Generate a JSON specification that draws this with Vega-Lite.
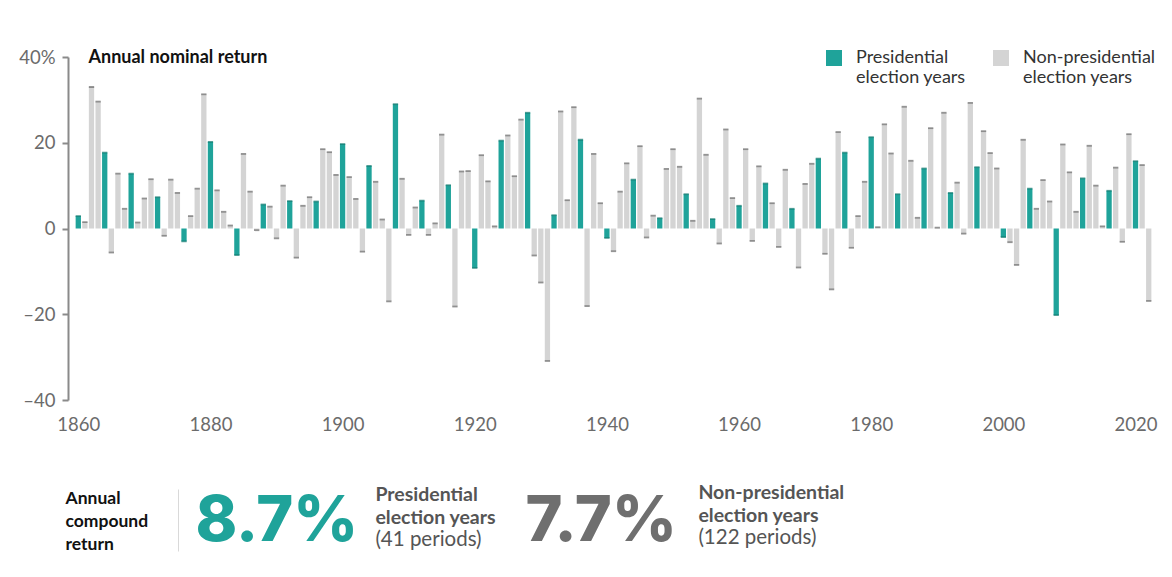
{
  "$schema": "https://vega.github.io/schema/vega-lite/v6.json",
  "padding": {"left": 18, "top": 48, "right": 0, "bottom": 0},
  "spacing": 49,
  "config": {"font": "Lato", "view": {"stroke": null}},
  "datasets": {
    "returns": [
      {"year":1860,"ret":2.9,"group":"Presidential"},{"year":1861,"ret":1.5,"group":"Non-presidential"},{"year":1862,"ret":33.0,"group":"Non-presidential"},{"year":1863,"ret":29.6,"group":"Non-presidential"},
      {"year":1864,"ret":17.7,"group":"Presidential"},{"year":1865,"ret":-5.6,"group":"Non-presidential"},{"year":1866,"ret":12.8,"group":"Non-presidential"},{"year":1867,"ret":4.6,"group":"Non-presidential"},
      {"year":1868,"ret":12.8,"group":"Presidential"},{"year":1869,"ret":1.4,"group":"Non-presidential"},{"year":1870,"ret":7.0,"group":"Non-presidential"},{"year":1871,"ret":11.5,"group":"Non-presidential"},
      {"year":1872,"ret":7.3,"group":"Presidential"},{"year":1873,"ret":-1.7,"group":"Non-presidential"},{"year":1874,"ret":11.4,"group":"Non-presidential"},{"year":1875,"ret":8.3,"group":"Non-presidential"},
      {"year":1876,"ret":-3.0,"group":"Presidential"},{"year":1877,"ret":2.9,"group":"Non-presidential"},{"year":1878,"ret":9.3,"group":"Non-presidential"},{"year":1879,"ret":31.3,"group":"Non-presidential"},
      {"year":1880,"ret":20.2,"group":"Presidential"},{"year":1881,"ret":8.9,"group":"Non-presidential"},{"year":1882,"ret":3.9,"group":"Non-presidential"},{"year":1883,"ret":0.7,"group":"Non-presidential"},
      {"year":1884,"ret":-6.2,"group":"Presidential"},{"year":1885,"ret":17.4,"group":"Non-presidential"},{"year":1886,"ret":8.6,"group":"Non-presidential"},{"year":1887,"ret":-0.4,"group":"Non-presidential"},
      {"year":1888,"ret":5.6,"group":"Presidential"},{"year":1889,"ret":5.1,"group":"Non-presidential"},{"year":1890,"ret":-2.3,"group":"Non-presidential"},{"year":1891,"ret":10.0,"group":"Non-presidential"},
      {"year":1892,"ret":6.4,"group":"Presidential"},{"year":1893,"ret":-6.8,"group":"Non-presidential"},{"year":1894,"ret":5.3,"group":"Non-presidential"},{"year":1895,"ret":7.3,"group":"Non-presidential"},
      {"year":1896,"ret":6.3,"group":"Presidential"},{"year":1897,"ret":18.5,"group":"Non-presidential"},{"year":1898,"ret":17.8,"group":"Non-presidential"},{"year":1899,"ret":12.5,"group":"Non-presidential"},
      {"year":1900,"ret":19.7,"group":"Presidential"},{"year":1901,"ret":12.0,"group":"Non-presidential"},{"year":1902,"ret":6.9,"group":"Non-presidential"},{"year":1903,"ret":-5.4,"group":"Non-presidential"},
      {"year":1904,"ret":14.6,"group":"Presidential"},{"year":1905,"ret":10.9,"group":"Non-presidential"},{"year":1906,"ret":2.1,"group":"Non-presidential"},{"year":1907,"ret":-17.0,"group":"Non-presidential"},
      {"year":1908,"ret":29.0,"group":"Presidential"},{"year":1909,"ret":11.6,"group":"Non-presidential"},{"year":1910,"ret":-1.5,"group":"Non-presidential"},{"year":1911,"ret":4.9,"group":"Non-presidential"},
      {"year":1912,"ret":6.5,"group":"Presidential"},{"year":1913,"ret":-1.5,"group":"Non-presidential"},{"year":1914,"ret":1.2,"group":"Non-presidential"},{"year":1915,"ret":21.9,"group":"Non-presidential"},
      {"year":1916,"ret":10.1,"group":"Presidential"},{"year":1917,"ret":-18.2,"group":"Non-presidential"},{"year":1918,"ret":13.3,"group":"Non-presidential"},{"year":1919,"ret":13.4,"group":"Non-presidential"},
      {"year":1920,"ret":-9.2,"group":"Presidential"},{"year":1921,"ret":17.1,"group":"Non-presidential"},{"year":1922,"ret":11.0,"group":"Non-presidential"},{"year":1923,"ret":0.5,"group":"Non-presidential"},
      {"year":1924,"ret":20.5,"group":"Presidential"},{"year":1925,"ret":21.7,"group":"Non-presidential"},{"year":1926,"ret":12.2,"group":"Non-presidential"},{"year":1927,"ret":25.4,"group":"Non-presidential"},
      {"year":1928,"ret":27.0,"group":"Presidential"},{"year":1929,"ret":-6.3,"group":"Non-presidential"},{"year":1930,"ret":-12.6,"group":"Non-presidential"},{"year":1931,"ret":-30.9,"group":"Non-presidential"},
      {"year":1932,"ret":3.1,"group":"Presidential"},{"year":1933,"ret":27.3,"group":"Non-presidential"},{"year":1934,"ret":6.6,"group":"Non-presidential"},{"year":1935,"ret":28.3,"group":"Non-presidential"},
      {"year":1936,"ret":20.7,"group":"Presidential"},{"year":1937,"ret":-18.1,"group":"Non-presidential"},{"year":1938,"ret":17.4,"group":"Non-presidential"},{"year":1939,"ret":5.9,"group":"Non-presidential"},
      {"year":1940,"ret":-2.2,"group":"Presidential"},{"year":1941,"ret":-5.3,"group":"Non-presidential"},{"year":1942,"ret":8.6,"group":"Non-presidential"},{"year":1943,"ret":15.2,"group":"Non-presidential"},
      {"year":1944,"ret":11.4,"group":"Presidential"},{"year":1945,"ret":19.2,"group":"Non-presidential"},{"year":1946,"ret":-2.1,"group":"Non-presidential"},{"year":1947,"ret":3.0,"group":"Non-presidential"},
      {"year":1948,"ret":2.4,"group":"Presidential"},{"year":1949,"ret":13.9,"group":"Non-presidential"},{"year":1950,"ret":18.5,"group":"Non-presidential"},{"year":1951,"ret":14.4,"group":"Non-presidential"},
      {"year":1952,"ret":8.0,"group":"Presidential"},{"year":1953,"ret":1.8,"group":"Non-presidential"},{"year":1954,"ret":30.3,"group":"Non-presidential"},{"year":1955,"ret":17.2,"group":"Non-presidential"},
      {"year":1956,"ret":2.2,"group":"Presidential"},{"year":1957,"ret":-3.5,"group":"Non-presidential"},{"year":1958,"ret":23.1,"group":"Non-presidential"},{"year":1959,"ret":7.1,"group":"Non-presidential"},
      {"year":1960,"ret":5.3,"group":"Presidential"},{"year":1961,"ret":18.5,"group":"Non-presidential"},{"year":1962,"ret":-2.9,"group":"Non-presidential"},{"year":1963,"ret":14.5,"group":"Non-presidential"},
      {"year":1964,"ret":10.5,"group":"Presidential"},{"year":1965,"ret":5.9,"group":"Non-presidential"},{"year":1966,"ret":-4.3,"group":"Non-presidential"},{"year":1967,"ret":13.7,"group":"Non-presidential"},
      {"year":1968,"ret":4.6,"group":"Presidential"},{"year":1969,"ret":-9.1,"group":"Non-presidential"},{"year":1970,"ret":10.4,"group":"Non-presidential"},{"year":1971,"ret":15.1,"group":"Non-presidential"},
      {"year":1972,"ret":16.3,"group":"Presidential"},{"year":1973,"ret":-5.9,"group":"Non-presidential"},{"year":1974,"ret":-14.2,"group":"Non-presidential"},{"year":1975,"ret":22.5,"group":"Non-presidential"},
      {"year":1976,"ret":17.7,"group":"Presidential"},{"year":1977,"ret":-4.5,"group":"Non-presidential"},{"year":1978,"ret":2.9,"group":"Non-presidential"},{"year":1979,"ret":10.9,"group":"Non-presidential"},
      {"year":1980,"ret":21.3,"group":"Presidential"},{"year":1981,"ret":0.3,"group":"Non-presidential"},{"year":1982,"ret":24.3,"group":"Non-presidential"},{"year":1983,"ret":17.5,"group":"Non-presidential"},
      {"year":1984,"ret":8.0,"group":"Presidential"},{"year":1985,"ret":28.4,"group":"Non-presidential"},{"year":1986,"ret":15.8,"group":"Non-presidential"},{"year":1987,"ret":2.5,"group":"Non-presidential"},
      {"year":1988,"ret":14.0,"group":"Presidential"},{"year":1989,"ret":23.4,"group":"Non-presidential"},{"year":1990,"ret":0.2,"group":"Non-presidential"},{"year":1991,"ret":27.0,"group":"Non-presidential"},
      {"year":1992,"ret":8.3,"group":"Presidential"},{"year":1993,"ret":10.7,"group":"Non-presidential"},{"year":1994,"ret":-1.2,"group":"Non-presidential"},{"year":1995,"ret":29.3,"group":"Non-presidential"},
      {"year":1996,"ret":14.3,"group":"Presidential"},{"year":1997,"ret":22.7,"group":"Non-presidential"},{"year":1998,"ret":17.6,"group":"Non-presidential"},{"year":1999,"ret":14.0,"group":"Non-presidential"},
      {"year":2000,"ret":-2.0,"group":"Presidential"},{"year":2001,"ret":-3.2,"group":"Non-presidential"},{"year":2002,"ret":-8.5,"group":"Non-presidential"},{"year":2003,"ret":20.7,"group":"Non-presidential"},
      {"year":2004,"ret":9.3,"group":"Presidential"},{"year":2005,"ret":4.6,"group":"Non-presidential"},{"year":2006,"ret":11.3,"group":"Non-presidential"},{"year":2007,"ret":6.3,"group":"Non-presidential"},
      {"year":2008,"ret":-20.2,"group":"Presidential"},{"year":2009,"ret":19.6,"group":"Non-presidential"},{"year":2010,"ret":13.1,"group":"Non-presidential"},{"year":2011,"ret":3.9,"group":"Non-presidential"},
      {"year":2012,"ret":11.7,"group":"Presidential"},{"year":2013,"ret":19.3,"group":"Non-presidential"},{"year":2014,"ret":10.0,"group":"Non-presidential"},{"year":2015,"ret":0.5,"group":"Non-presidential"},
      {"year":2016,"ret":8.8,"group":"Presidential"},{"year":2017,"ret":14.2,"group":"Non-presidential"},{"year":2018,"ret":-3.1,"group":"Non-presidential"},{"year":2019,"ret":22.0,"group":"Non-presidential"},
      {"year":2020,"ret":15.7,"group":"Presidential"},{"year":2021,"ret":14.8,"group":"Non-presidential"},{"year":2022,"ret":-16.9,"group":"Non-presidential"}
    ],
    "summary": [
      {"group":"Presidential","rate":0.087,"label":"Presidential\nelection years","note":"(41 periods)"},
      {"group":"Non-presidential","rate":0.077,"label":"Non-presidential\nelection years","note":"(122 periods)"}
    ]
  },
  "vconcat": [
    {
      "width": 1092,
      "height": 343,
      "data": {"name": "returns"},
      "encoding": {
        "x": {"field": "year", "type": "quantitative",
              "scale": {"domain": [1859.2, 2022.95], "nice": false, "zero": false},
              "axis": {"values": [1860,1880,1900,1920,1940,1960,1980,2000,2020], "format": "d", "domain": false, "ticks": false, "grid": false,
                       "labelFontSize": 18.5, "labelColor": "#6b6b6b", "labelPadding": 15, "title": null}},
        "y": {"field": "ret", "type": "quantitative",
              "scale": {"domain": [-40, 40], "nice": false},
              "axis": {"values": [-40,-20,0,20,40], "grid": false, "domainColor": "#8a8a8a", "domainWidth": 2,
                       "tickColor": "#8a8a8a", "tickWidth": 2, "tickSize": 6, "labelPadding": 7,
                       "labelFontSize": 18.5, "labelColor": "#6b6b6b",
                       "labelExpr": "datum.value == 40 ? '40%' : (datum.value < 0 ? '–' + (-datum.value) : datum.label)",
                       "title": "Annual nominal return", "titleAngle": 0, "titleAlign": "left", "titleBaseline": "middle",
                       "titleX": 20, "titleY": 0, "titleFontSize": 18, "titleFontWeight": "bold", "titleColor": "#111111"}}
      },
      "layer": [
        {
          "mark": {"type": "bar", "width": 5.3},
          "encoding": {
            "color": {"field": "group", "type": "nominal",
                      "scale": {"domain": ["Presidential", "Non-presidential"], "range": ["#1fa39a", "#d4d4d4"]},
                      "legend": {"title": null, "orient": "none", "legendX": 757, "legendY": -8, "direction": "horizontal",
                                 "symbolType": "square", "symbolSize": 256, "symbolStrokeWidth": 0, "symbolOpacity": 1,
                                 "labelFontSize": 18, "labelColor": "#333333", "labelOffset": 13, "columnPadding": 26,
                                 "labelLimit": 220,
                                 "labelExpr": "[datum.label, 'election years']"}}
          }
        },
        {
          "mark": {"type": "tick", "orient": "horizontal", "thickness": 1.8, "size": 5.3},
          "encoding": {
            "color": {"condition": {"test": "datum.group === 'Presidential'", "value": "#137a70"}, "value": "#6b6b6b"}
          }
        },
        {
          "mark": {"type": "rule", "color": "#8a8a8a", "strokeWidth": 2},
          "encoding": {"y": {"datum": 0}}
        }
      ]
    },
    {
      "width": 990,
      "height": 62,
      "data": {"name": "summary"},
      "encoding": {
        "x": {"field": "group", "type": "nominal",
              "scale": {"type": "point", "domain": ["Presidential", "Non-presidential"], "padding": 1, "align": 0.193},
              "axis": null},
        "y": {"datum": 0, "type": "quantitative", "scale": {"domain": [0, 1]},
              "axis": {"offset": -110, "labels": false, "ticks": false, "grid": false, "domainColor": "#d9d9d9", "domainWidth": 1,
                       "title": ["Annual", "compound", "return"], "titleAngle": 0, "titleAlign": "left", "titleBaseline": "alphabetic",
                       "titleX": -113, "titleY": 14, "titleFontSize": 17.5, "titleFontWeight": "bold", "titleColor": "#111111",
                       "titleLineHeight": 23}}
      },
      "layer": [
        {
          "mark": {"type": "text", "align": "left", "baseline": "alphabetic", "font": "Inter", "fontSize": 63, "fontWeight": 800, "dy": -10},
          "encoding": {
            "text": {"field": "rate", "type": "quantitative", "format": ".1%"},
            "color": {"condition": {"test": "datum.group === 'Presidential'", "value": "#1fa39a"}, "value": "#6f6f6f"}
          }
        },
        {
          "mark": {"type": "text", "align": "left", "baseline": "alphabetic", "fontSize": 19.5, "fontWeight": "bold",
                   "color": "#555555", "dx": {"expr": "datum.group === 'Presidential' ? 180 : 173"},
                   "dy": {"expr": "datum.group === 'Presidential' ? -50 : -52"}, "lineBreak": "\n", "lineHeight": 23},
          "encoding": {"text": {"field": "label"}}
        },
        {
          "mark": {"type": "text", "align": "left", "baseline": "alphabetic", "fontSize": 20.5,
                   "color": "#555555", "dx": {"expr": "datum.group === 'Presidential' ? 180 : 173"},
                   "dy": {"expr": "datum.group === 'Presidential' ? -5 : -7"}},
          "encoding": {"text": {"field": "note"}}
        }
      ]
    }
  ]
}
